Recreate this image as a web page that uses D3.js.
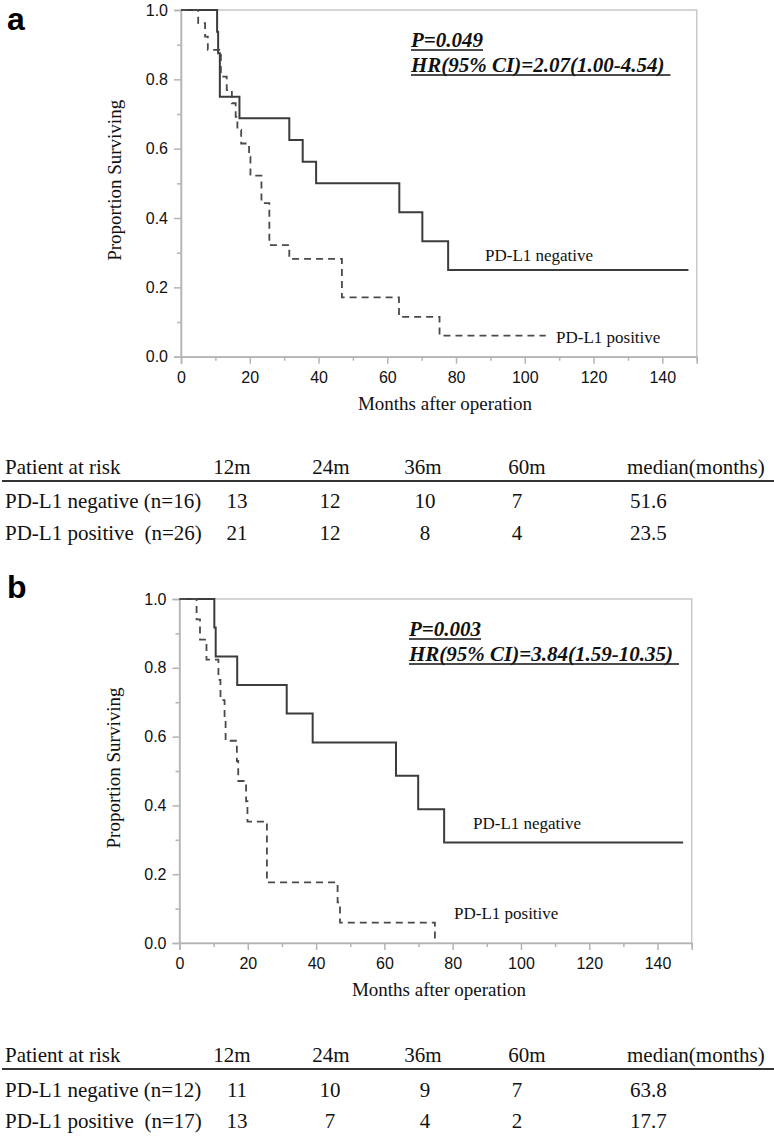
<!DOCTYPE html>
<html><head><meta charset="utf-8">
<script src="https://cdn.jsdelivr.net/npm/d3@7"></script>
<style>body{margin:0;background:#fff}svg{display:block}</style>
</head><body><svg id="c" width="774" height="1138"></svg>
<script>
// ---------- DATA ----------
const xTicksMajor = [0, 20, 40, 60, 80, 100, 120, 140];
const xTicksMinor = [10, 30, 50, 70, 90, 110, 130, 150];
const yTicksMajor = [0.0, 0.2, 0.4, 0.6, 0.8, 1.0];
const yTicksMinor = [0.1, 0.3, 0.5, 0.7, 0.9];

// Panel a
const negA_months = [0, 10.5, 10.8, 11.3, 17.0, 31.5, 35.4, 39.3, 63.5, 70.2, 77.7];
const negA_surv   = [1.0, 0.9375, 0.875, 0.75, 0.6875, 0.625, 0.5625, 0.5, 0.4167, 0.3333, 0.25];
const negA_last = 147.6;
const posA_months = [0, 5.0, 7.0, 7.8, 11.6, 13.3, 14.8, 15.9, 16.4, 17.5, 19.8, 20.2, 23.4, 25.7, 31.5, 46.8, 63.4, 75.2];
const posA_surv   = [1.0, 0.962, 0.923, 0.885, 0.808, 0.769, 0.731, 0.692, 0.654, 0.615, 0.577, 0.522, 0.443, 0.322, 0.282, 0.171, 0.115, 0.061];
const posA_last = 106.1;
const statsA = ["P=0.049", "HR(95% CI)=2.07(1.00-4.54)"];

// Panel b
const negB_months = [0, 10.2, 10.6, 16.9, 31.4, 39.0, 63.4, 69.9, 77.5];
const negB_surv   = [1.0, 0.917, 0.833, 0.75, 0.667, 0.583, 0.486, 0.389, 0.292];
const negB_last = 147.5;
const posB_months = [0, 5.0, 6.0, 7.9, 11.4, 12.0, 13.2, 13.5, 16.8, 17.2, 19.5, 19.9, 25.6, 46.3, 47.0, 74.8];
const posB_surv   = [1.0, 0.941, 0.882, 0.824, 0.765, 0.706, 0.647, 0.588, 0.529, 0.471, 0.412, 0.353, 0.176, 0.118, 0.059, 0.0];
const posB_last = 74.8;
const statsB = ["P=0.003", "HR(95% CI)=3.84(1.59-10.35)"];

const seriesNames = ["PD-L1 negative", "PD-L1 positive"];
const xTitle = "Months after operation";
const yTitle = "Proportion Surviving";

// Risk tables
const riskHeaders = ["Patient at risk", "12m", "24m", "36m", "60m", "median(months)"];
const riskA_rows = ["PD-L1 negative (n=16)", "PD-L1 positive  (n=26)"];
const riskA_neg = [13, 12, 10, 7];
const riskA_pos = [21, 12, 8, 4];
const medianA = ["51.6", "23.5"];
const riskB_rows = ["PD-L1 negative (n=12)", "PD-L1 positive  (n=17)"];
const riskB_neg = [11, 10, 9, 7];
const riskB_pos = [13, 7, 4, 2];
const medianB = ["63.8", "17.7"];

// ---------- DRAW ----------
const svg = d3.select("#c");
svg.append("rect").attr("width", 774).attr("height", 1138).attr("fill", "#fff");
const SERIF = "Liberation Serif, Times New Roman, serif";
const SANS = "Liberation Sans, Arial, Helvetica, sans-serif";

function serifText(g, x, y, s, size) {
  return g.append("text").attr("x", x).attr("y", y)
    .style("font-family", SERIF).style("font-size", size + "px").attr("fill", "#111").text(s);
}

function panel(cfg) {
  const g = svg.append("g");
  const x = d3.scaleLinear().domain([0, 150]).range([cfg.left, cfg.right]);
  const y = d3.scaleLinear().domain([0, 1]).range([cfg.bottom, cfg.top]);
  const axisCol = "#b4b4b4";

  g.append("rect").attr("x", cfg.left).attr("y", cfg.top)
    .attr("width", cfg.right - cfg.left).attr("height", cfg.bottom - cfg.top)
    .attr("fill", "none").attr("stroke", "#c8c8c8").attr("stroke-width", 1.5);

  const xa = g.append("g").attr("transform", `translate(0,${cfg.bottom})`)
    .call(d3.axisBottom(x).tickValues(xTicksMajor).tickSize(7).tickPadding(8).tickFormat(d3.format("d")));
  xa.select(".domain").attr("stroke", axisCol).attr("stroke-width", 1.5);
  xa.selectAll(".tick line").attr("stroke", axisCol).attr("stroke-width", 1.5);
  xa.selectAll(".tick text").style("font-family", SANS).style("font-size", "16px").attr("fill", "#111");
  const xm = g.append("g").attr("transform", `translate(0,${cfg.bottom})`)
    .call(d3.axisBottom(x).tickValues(xTicksMinor).tickSize(4).tickFormat(""));
  xm.select(".domain").remove();
  xm.selectAll(".tick line").attr("stroke", axisCol).attr("stroke-width", 1.5);

  const ya = g.append("g").attr("transform", `translate(${cfg.left},0)`)
    .call(d3.axisLeft(y).tickValues(yTicksMajor).tickSize(7).tickPadding(6).tickFormat(d3.format(".1f")));
  ya.select(".domain").attr("stroke", axisCol).attr("stroke-width", 1.5);
  ya.selectAll(".tick line").attr("stroke", axisCol).attr("stroke-width", 1.5);
  ya.selectAll(".tick text").style("font-family", SANS).style("font-size", "16px").attr("fill", "#111");
  const ym = g.append("g").attr("transform", `translate(${cfg.left},0)`)
    .call(d3.axisLeft(y).tickValues(yTicksMinor).tickSize(4).tickFormat(""));
  ym.select(".domain").remove();
  ym.selectAll(".tick line").attr("stroke", axisCol).attr("stroke-width", 1.5);

  const line = d3.line().x(d => x(d[0])).y(d => y(d[1])).curve(d3.curveStepAfter);
  function pts(t, s, last) {
    const p = t.map((v, i) => [v, s[i]]);
    p.push([last, s[s.length - 1]]);
    return p;
  }
  g.append("path").attr("d", line(pts(cfg.negT, cfg.negS, cfg.negLast)))
    .attr("fill", "none").attr("stroke", "#3c3c3c").attr("stroke-width", 2);
  g.append("path").attr("d", line(pts(cfg.posT, cfg.posS, cfg.posLast)))
    .attr("fill", "none").attr("stroke", "#4a4a4a").attr("stroke-width", 1.8)
    .attr("stroke-dasharray", "7,5");

  serifText(g, cfg.negLab[0], cfg.negLab[1], seriesNames[0], 17);
  serifText(g, cfg.posLab[0], cfg.posLab[1], seriesNames[1], 17);

  cfg.stats.forEach((s, i) => {
    const t = serifText(g, cfg.statX, cfg.statY[i], s, 21)
      .style("font-weight", "bold").style("font-style", "italic");
    const len = t.node().getComputedTextLength();
    g.append("line").attr("x1", cfg.statX).attr("x2", cfg.statX + len + (i === 1 ? 6 : 0))
      .attr("y1", cfg.statY[i] + 3).attr("y2", cfg.statY[i] + 3)
      .attr("stroke", "#111").attr("stroke-width", 1.5);
  });

  serifText(g, cfg.xTitleX, cfg.bottom + 53, xTitle, 19).attr("text-anchor", "middle");
  serifText(g, 0, 0, yTitle, 19).attr("text-anchor", "middle")
    .attr("transform", `translate(${cfg.left - 60},${(cfg.top + cfg.bottom) / 2 - 3}) rotate(-90)`);

  svg.append("text").attr("x", 7).attr("y", cfg.letterY).style("font-family", SANS)
    .style("font-weight", "bold").style("font-size", "32px").attr("fill", "#000").text(cfg.letter);
}

function table(cfg) {
  const g = svg.append("g");
  const hx = [232, 331, 423, 527];
  const vx = [237, 330, 425, 517];
  serifText(g, 5, cfg.head, riskHeaders[0], 21);
  riskHeaders.slice(1, 5).forEach((h, i) =>
    serifText(g, hx[i], cfg.head, h, 21).attr("text-anchor", "middle"));
  serifText(g, 627, cfg.head, riskHeaders[5], 21);
  g.append("line").attr("x1", 2).attr("x2", 774).attr("y1", cfg.line).attr("y2", cfg.line)
    .attr("stroke", "#333").attr("stroke-width", 2);
  [cfg.neg, cfg.pos].forEach((vals, r) => {
    const yy = cfg.rows[r];
    serifText(g, 5, yy, cfg.labels[r], 21).style("white-space", "pre");
    vals.forEach((v, i) => serifText(g, vx[i], yy, v, 21).attr("text-anchor", "middle"));
    serifText(g, 630, yy, cfg.median[r], 21);
  });
}

panel({left: 181, right: 696.7, top: 10, bottom: 356.7, letter: "a", letterY: 29.5, xTitleX: 445,
  negT: negA_months, negS: negA_surv, negLast: negA_last,
  posT: posA_months, posS: posA_surv, posLast: posA_last,
  negLab: [485, 261], posLab: [556, 343], stats: statsA, statX: 411, statY: [47, 72]});
table({head: 474, line: 481, rows: [508, 540], labels: riskA_rows, neg: riskA_neg, pos: riskA_pos, median: medianA});

panel({left: 179.5, right: 691.7, top: 599, bottom: 943, letter: "b", letterY: 598, xTitleX: 439,
  negT: negB_months, negS: negB_surv, negLast: negB_last,
  posT: posB_months, posS: posB_surv, posLast: posB_last,
  negLab: [473, 829], posLab: [454, 919], stats: statsB, statX: 409, statY: [636, 661]});
table({head: 1062, line: 1069, rows: [1097, 1128], labels: riskB_rows, neg: riskB_neg, pos: riskB_pos, median: medianB});
</script></body></html>
